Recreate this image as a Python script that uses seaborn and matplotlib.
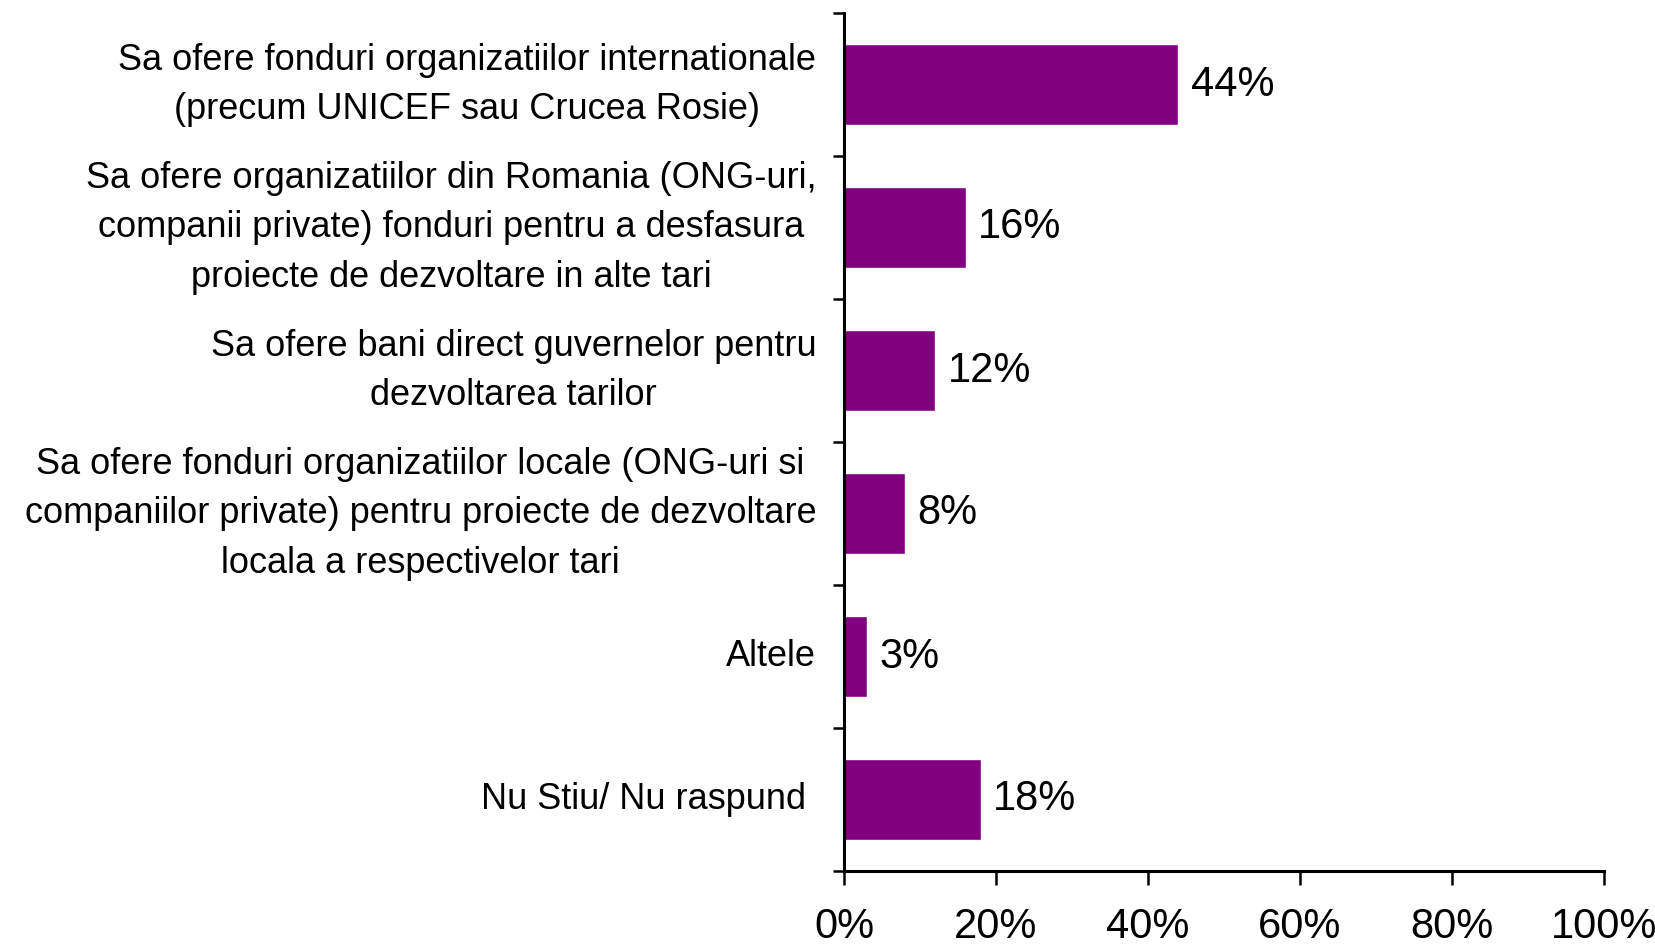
import pandas as pd
import numpy as np
import matplotlib
matplotlib.use("Agg")
import matplotlib.pyplot as plt
import matplotlib.transforms as mtransforms
import seaborn as sns
from matplotlib.ticker import FixedLocator, PercentFormatter

categories = [
    "Sa ofere fonduri organizatiilor internationale\n(precum UNICEF sau Crucea Rosie)",
    "Sa ofere organizatiilor din Romania (ONG-uri,\ncompanii private) fonduri pentru a desfasura\nproiecte de dezvoltare in alte tari",
    "Sa ofere bani direct guvernelor pentru\ndezvoltarea tarilor",
    "Sa ofere fonduri organizatiilor locale (ONG-uri si\ncompaniilor private) pentru proiecte de dezvoltare\nlocala a respectivelor tari",
    "Altele",
    "Nu Stiu/ Nu raspund ",
]
values = [44, 16, 12, 8, 3, 18]
x_ticks = [0, 20, 40, 60, 80, 100]

sns.set_style("white")
plt.rcParams["font.family"] = ["Liberation Sans", "DejaVu Sans"]
plt.rcParams["text.color"] = "black"
plt.rcParams["xtick.color"] = "black"
plt.rcParams["ytick.color"] = "black"

df = pd.DataFrame({"Category": categories, "Value": values})

fig = plt.figure(figsize=(16.56, 9.47), dpi=100)
ax = fig.add_axes([844 / 1656, 1 - 871 / 947, 760 / 1656, 858 / 947])

sns.barplot(
    data=df,
    x="Value",
    y="Category",
    orient="h",
    color="#800080",
    saturation=1,
    width=0.57,
    ax=ax,
)

for container in ax.containers:
    ax.bar_label(container, fmt="%g%%", padding=9, fontsize=30, color="black")

ax.set_xlim(0, 100)
ax.set_ylim(len(categories) - 0.5, -0.5)
ax.set_xticks(x_ticks)
ax.xaxis.set_major_formatter(PercentFormatter(decimals=0))
ax.tick_params(axis="x", labelsize=30, length=10, width=1.8, direction="out",
               pad=16, bottom=True, labelcolor="black")
ax.tick_params(axis="y", which="major", length=0, pad=20, labelsize=26,
               labelcolor="black")
ax.yaxis.set_minor_locator(FixedLocator(np.arange(-0.5, len(categories), 1.0)))
ax.tick_params(axis="y", which="minor", length=8, width=1.8, left=True, direction="out")

# multi-line labels sit a bit higher in the original
for lbl in ax.get_yticklabels():
    lbl.set_multialignment("center")
    lbl.set_linespacing(1.55)
    shift = 11 if "\n" in lbl.get_text() else 4
    lbl.set_transform(lbl.get_transform() + mtransforms.ScaledTranslation(
        0, shift / 100, fig.dpi_scale_trans))

ax.set_xlabel("")
ax.set_ylabel("")
sns.despine(ax=ax, top=True, right=True)
for side in ["left", "bottom"]:
    ax.spines[side].set_linewidth(2.2)
    ax.spines[side].set_color("black")

fig.savefig("out.png", dpi=100)
